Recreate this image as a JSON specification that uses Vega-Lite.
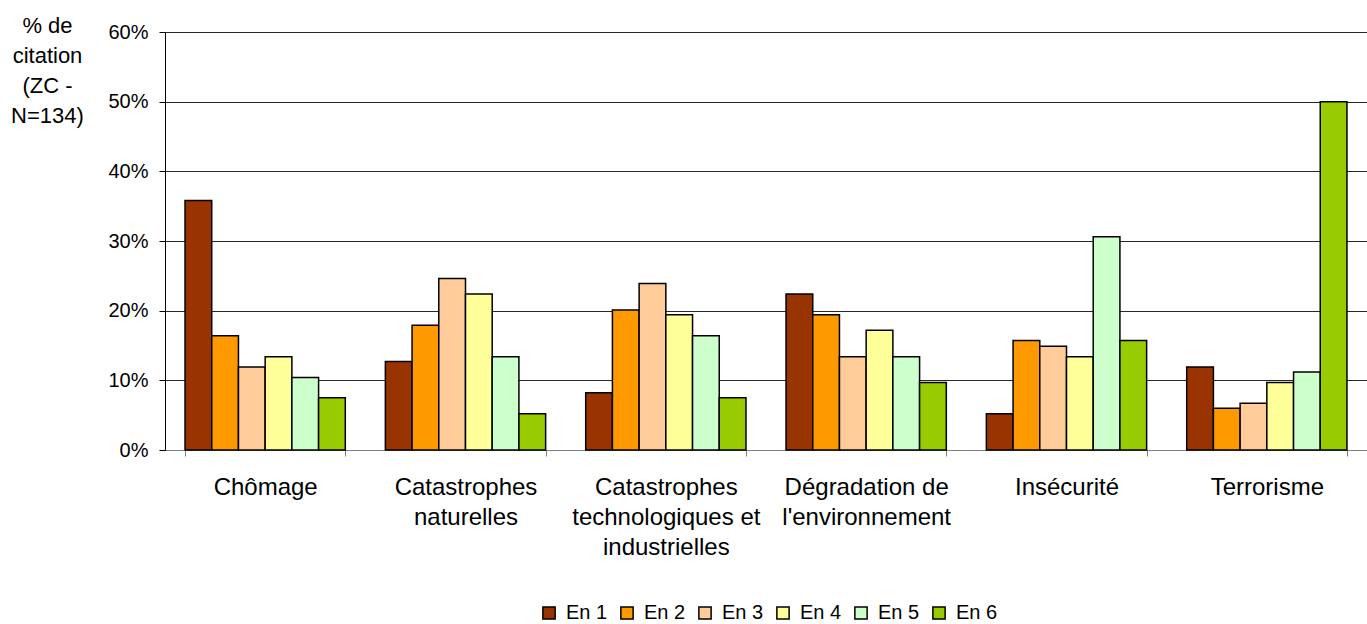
{
  "$schema": "https://vega.github.io/schema/vega-lite/v6.json",
  "width": 1202,
  "height": 418,
  "autosize": "none",
  "padding": {"left": 165, "top": 32, "right": 0, "bottom": 174},
  "background": "white",
  "config": {
    "font": "Liberation Sans",
    "view": {"stroke": null}
  },
  "data": {
    "values": [
      {"categorie": "Chômage", "rang": "En 1", "pct": 35.8},
      {"categorie": "Chômage", "rang": "En 2", "pct": 16.4},
      {"categorie": "Chômage", "rang": "En 3", "pct": 11.9},
      {"categorie": "Chômage", "rang": "En 4", "pct": 13.4},
      {"categorie": "Chômage", "rang": "En 5", "pct": 10.4},
      {"categorie": "Chômage", "rang": "En 6", "pct": 7.5},
      {"categorie": "Catastrophes naturelles", "rang": "En 1", "pct": 12.7},
      {"categorie": "Catastrophes naturelles", "rang": "En 2", "pct": 17.9},
      {"categorie": "Catastrophes naturelles", "rang": "En 3", "pct": 24.6},
      {"categorie": "Catastrophes naturelles", "rang": "En 4", "pct": 22.4},
      {"categorie": "Catastrophes naturelles", "rang": "En 5", "pct": 13.4},
      {"categorie": "Catastrophes naturelles", "rang": "En 6", "pct": 5.2},
      {"categorie": "Catastrophes technologiques et industrielles", "rang": "En 1", "pct": 8.2},
      {"categorie": "Catastrophes technologiques et industrielles", "rang": "En 2", "pct": 20.1},
      {"categorie": "Catastrophes technologiques et industrielles", "rang": "En 3", "pct": 23.9},
      {"categorie": "Catastrophes technologiques et industrielles", "rang": "En 4", "pct": 19.4},
      {"categorie": "Catastrophes technologiques et industrielles", "rang": "En 5", "pct": 16.4},
      {"categorie": "Catastrophes technologiques et industrielles", "rang": "En 6", "pct": 7.5},
      {"categorie": "Dégradation de l'environnement", "rang": "En 1", "pct": 22.4},
      {"categorie": "Dégradation de l'environnement", "rang": "En 2", "pct": 19.4},
      {"categorie": "Dégradation de l'environnement", "rang": "En 3", "pct": 13.4},
      {"categorie": "Dégradation de l'environnement", "rang": "En 4", "pct": 17.2},
      {"categorie": "Dégradation de l'environnement", "rang": "En 5", "pct": 13.4},
      {"categorie": "Dégradation de l'environnement", "rang": "En 6", "pct": 9.7},
      {"categorie": "Insécurité", "rang": "En 1", "pct": 5.2},
      {"categorie": "Insécurité", "rang": "En 2", "pct": 15.7},
      {"categorie": "Insécurité", "rang": "En 3", "pct": 14.9},
      {"categorie": "Insécurité", "rang": "En 4", "pct": 13.4},
      {"categorie": "Insécurité", "rang": "En 5", "pct": 30.6},
      {"categorie": "Insécurité", "rang": "En 6", "pct": 15.7},
      {"categorie": "Terrorisme", "rang": "En 1", "pct": 11.9},
      {"categorie": "Terrorisme", "rang": "En 2", "pct": 6.0},
      {"categorie": "Terrorisme", "rang": "En 3", "pct": 6.7},
      {"categorie": "Terrorisme", "rang": "En 4", "pct": 9.7},
      {"categorie": "Terrorisme", "rang": "En 5", "pct": 11.2},
      {"categorie": "Terrorisme", "rang": "En 6", "pct": 50.0}
    ]
  },
  "mark": {"type": "bar", "stroke": "black", "strokeWidth": 1.5},
  "encoding": {
    "x": {
      "field": "categorie",
      "type": "nominal",
      "sort": null,
      "scale": {"paddingInner": 0.2, "paddingOuter": 0.1},
      "axis": {
        "title": null,
        "labelAngle": 0,
        "labelFontSize": 24,
        "labelColor": "black",
        "labelLineHeight": 30,
        "labelBaseline": "top",
        "labelPadding": 19,
        "labelLimit": 400,
        "labelOverlap": false,
        "tickBand": "extent",
        "tickColor": "#808080",
        "tickSize": 6,
        "domainColor": "#808080",
        "domainWidth": 1,
        "labelExpr": "datum.label == 'Catastrophes naturelles' ? ['Catastrophes', 'naturelles'] : datum.label == 'Catastrophes technologiques et industrielles' ? ['Catastrophes', 'technologiques et', 'industrielles'] : datum.label == \"Dégradation de l'environnement\" ? ['Dégradation de', \"l'environnement\"] : datum.label"
      }
    },
    "xOffset": {
      "field": "rang",
      "type": "nominal",
      "scale": {"paddingInner": 0, "paddingOuter": 0}
    },
    "y": {
      "field": "pct",
      "type": "quantitative",
      "scale": {"domain": [0, 60]},
      "axis": {
        "values": [0, 10, 20, 30, 40, 50, 60],
        "labelExpr": "datum.value + '%'",
        "labelFontSize": 20,
        "labelColor": "black",
        "labelPadding": 11,
        "tickSize": 6,
        "tickColor": "black",
        "domainColor": "black",
        "gridColor": "black",
        "gridOpacity": 0.85,
        "title": ["% de", "citation", "(ZC -", "N=134)"],
        "titleAngle": 0,
        "titleFontSize": 22,
        "titleFontWeight": "normal",
        "titleColor": "black",
        "titleLineHeight": 30,
        "titleAlign": "center",
        "titleBaseline": "alphabetic",
        "titleX": -118,
        "titleY": 0
      }
    },
    "color": {
      "field": "rang",
      "type": "nominal",
      "scale": {
        "domain": ["En 1", "En 2", "En 3", "En 4", "En 5", "En 6"],
        "range": ["#993300", "#FF9900", "#FFCC99", "#FFFF99", "#CCFFCC", "#99CC00"]
      },
      "legend": {
        "title": null,
        "orient": "none",
        "direction": "horizontal",
        "legendX": 374,
        "legendY": 571,
        "symbolType": "square",
        "symbolSize": 150,
        "symbolStrokeColor": "black",
        "symbolStrokeWidth": 1.5,
        "labelFontSize": 20,
        "labelColor": "black",
        "labelOffset": 7,
        "columnPadding": 9
      }
    }
  }
}
